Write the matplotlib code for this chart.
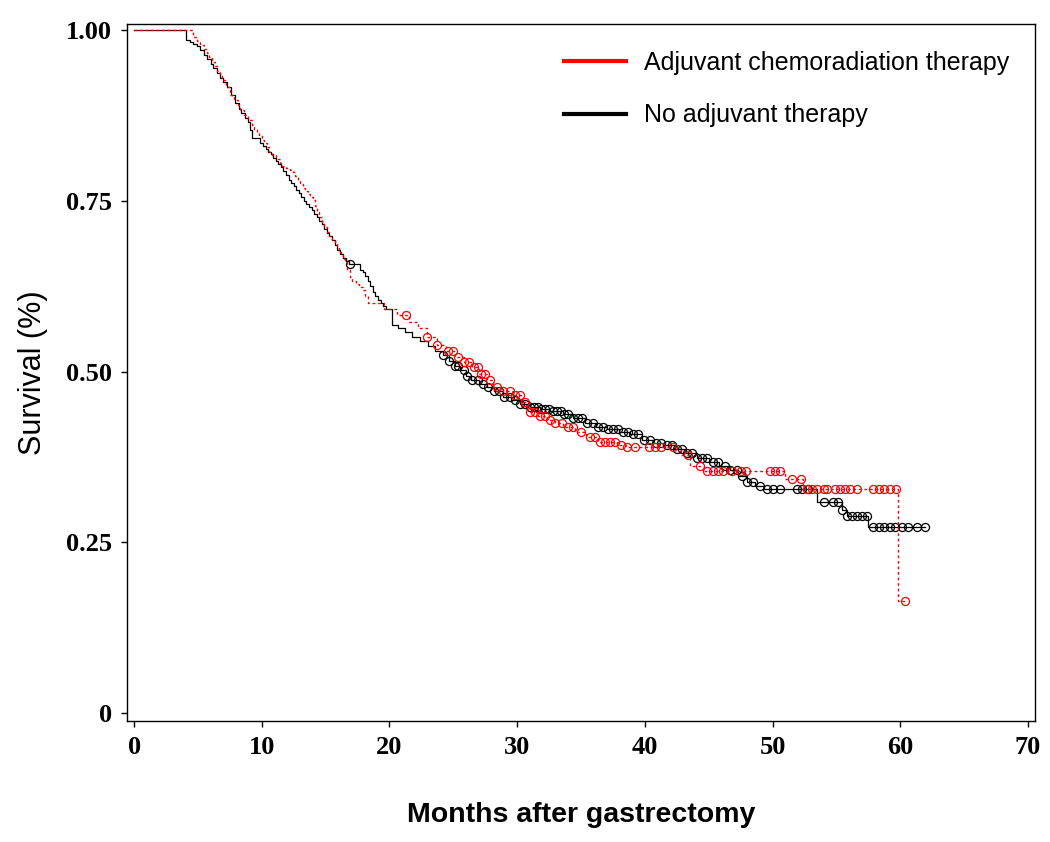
import numpy as np
import matplotlib
matplotlib.use("Agg")
import matplotlib.pyplot as plt
from matplotlib.lines import Line2D

# ---------------- data ----------------
no_adj_t = [0, 4.1, 4.4, 4.6, 4.9, 5.2, 5.5, 5.7, 6.0, 6.2, 6.5, 6.7, 7.0, 7.3, 7.6, 7.9,
            8.2, 8.4, 8.7, 8.9, 9.1, 9.25, 9.9, 10.1, 10.3, 10.5, 10.7, 10.9, 11.1, 11.3,
            11.5, 11.7, 11.9, 12.1, 12.3, 12.5, 12.7, 12.9, 13.1, 13.3, 13.5, 13.7, 13.9,
            14.1, 14.3, 14.5, 14.7, 14.9, 15.1, 15.3, 15.5, 15.7, 15.9, 16.1, 16.4, 16.6,
            16.8, 17.7, 17.9, 18.1, 18.3, 18.5, 18.7, 18.9, 19.1, 19.3, 19.5, 19.7, 20.2,
            20.7, 21.2, 21.8, 22.4, 23.0, 23.6, 24.2, 24.7, 25.1, 25.5, 26.0, 26.4, 27.0,
            27.6, 28.2, 28.9, 29.5, 30.2, 31.0, 31.8, 32.6, 33.6, 34.4, 35.3, 36.2, 37.0,
            38.0, 38.8, 39.8, 40.6, 41.4, 42.3, 43.2, 44.1, 45.0, 45.8, 46.7, 47.3, 48.0,
            48.6, 49.3, 53.5, 55.4, 55.8, 57.5, 61.9]
no_adj_s = [1.0, 0.985, 0.982, 0.980, 0.976, 0.971, 0.964, 0.958, 0.950, 0.944, 0.937,
            0.930, 0.924, 0.917, 0.905, 0.893, 0.885, 0.878, 0.871, 0.865, 0.853, 0.842,
            0.835, 0.830, 0.826, 0.822, 0.818, 0.813, 0.808, 0.804, 0.800, 0.793, 0.787,
            0.781, 0.776, 0.771, 0.766, 0.761, 0.756, 0.750, 0.745, 0.741, 0.737, 0.731,
            0.726, 0.721, 0.716, 0.709, 0.703, 0.698, 0.692, 0.685, 0.678, 0.672, 0.666,
            0.662, 0.658, 0.649, 0.645, 0.640, 0.632, 0.625, 0.617, 0.610, 0.605, 0.600,
            0.596, 0.592, 0.568, 0.563, 0.558, 0.551, 0.545, 0.538, 0.530, 0.524, 0.516,
            0.508, 0.502, 0.493, 0.487, 0.482, 0.477, 0.471, 0.463, 0.458, 0.452, 0.448,
            0.445, 0.442, 0.438, 0.432, 0.425, 0.419, 0.416, 0.412, 0.409, 0.400, 0.396,
            0.392, 0.386, 0.380, 0.373, 0.367, 0.361, 0.356, 0.347, 0.338, 0.333, 0.328,
            0.309, 0.297, 0.288, 0.272, 0.272]
no_adj_cens = [16.9, 24.2, 24.7, 25.1, 25.4, 25.8, 26.1, 26.5, 26.9, 27.3, 27.7, 28.2,
               28.6, 29.0, 29.4, 29.8, 30.2, 30.6, 31.0, 31.3, 31.6, 31.9, 32.2, 32.5,
               32.8, 33.1, 33.4, 33.7, 34.0, 34.4, 34.8, 35.1, 35.5, 35.9, 36.3, 36.7,
               37.1, 37.5, 37.9, 38.3, 38.7, 39.1, 39.5, 39.9, 40.4, 40.9, 41.3, 41.7,
               42.1, 42.5, 42.9, 43.3, 43.7, 44.1, 44.5, 44.9, 45.3, 45.7, 46.3, 46.7,
               47.2, 47.6, 48.0, 48.5, 49.0, 49.6, 50.0, 50.6, 51.9, 52.3, 52.8, 54.0,
               54.7, 55.1, 55.4, 55.8, 56.2, 56.6, 57.0, 57.4, 57.9, 58.3, 58.7, 59.2,
               59.6, 60.1, 60.6, 61.3, 61.9]

chemo_t = [0, 4.6, 4.9, 5.2, 5.5, 5.7, 5.9, 6.1, 6.3, 6.5, 6.7, 6.9, 7.2, 7.5, 7.8, 8.1,
           8.3, 8.6, 8.9, 9.2, 9.4, 9.6, 9.8, 10.0, 10.2, 10.4, 10.6, 10.8, 11.1, 11.4,
           11.6, 11.9, 12.2, 12.45, 12.6, 12.8, 13.0, 13.2, 13.4, 13.6, 13.8, 14.0, 14.15,
           14.3, 14.5, 14.7, 14.9, 15.1, 15.3, 15.5, 15.7, 15.9, 16.05, 16.2, 16.35, 16.5,
           16.7, 16.9, 17.1, 17.4, 17.6, 17.9, 18.1, 18.3, 19.6, 20.6, 21.5, 22.2, 22.9,
           23.7, 24.4, 25.1, 25.8, 26.5, 27.0, 27.6, 28.1, 28.9, 29.7, 30.3, 31.0, 31.6,
           32.3, 33.0, 33.6, 34.5, 35.4, 36.3, 37.8, 38.5, 42.8, 43.5, 44.6, 51.0, 52.4,
           59.8, 60.4]
chemo_s = [1.0, 0.990, 0.984, 0.978, 0.972, 0.966, 0.960, 0.953, 0.947, 0.940, 0.934,
           0.927, 0.916, 0.905, 0.897, 0.890, 0.883, 0.876, 0.868, 0.861, 0.855, 0.850,
           0.845, 0.839, 0.834, 0.828, 0.822, 0.817, 0.811, 0.805, 0.801, 0.798, 0.795,
           0.792, 0.786, 0.780, 0.775, 0.769, 0.765, 0.760, 0.756, 0.751, 0.742, 0.733,
           0.726, 0.719, 0.712, 0.704, 0.698, 0.692, 0.686, 0.681, 0.675, 0.670, 0.665,
           0.660, 0.649, 0.638, 0.633, 0.628, 0.624, 0.619, 0.610, 0.600, 0.592, 0.583,
           0.572, 0.564, 0.551, 0.539, 0.530, 0.521, 0.514, 0.507, 0.497, 0.487, 0.477,
           0.471, 0.466, 0.455, 0.441, 0.435, 0.429, 0.424, 0.419, 0.412, 0.404, 0.397,
           0.392, 0.390, 0.378, 0.362, 0.355, 0.343, 0.328, 0.164, 0.164]
chemo_cens = [21.3, 22.9, 23.7, 24.6, 25.0, 25.4, 25.8, 26.2, 26.6, 26.9, 27.2, 27.5,
              27.9, 28.4, 28.9, 29.4, 29.8, 30.2, 30.6, 31.0, 31.4, 31.8, 32.2, 32.6,
              33.0, 33.5, 34.0, 34.4, 35.0, 35.7, 36.1, 36.5, 36.9, 37.3, 37.7, 38.1,
              38.6, 39.2, 40.3, 40.8, 41.3, 42.2, 43.4, 44.3, 44.9, 45.3, 45.7, 46.1,
              46.8, 47.5, 47.9, 49.8, 50.2, 50.6, 51.5, 52.2, 52.7, 53.1, 53.5, 54.0,
              54.3, 54.9, 55.3, 55.7, 56.1, 56.6, 57.9, 58.3, 58.7, 59.2, 59.7, 60.4]

labels = ["Adjuvant chemoradiation therapy", "No adjuvant therapy"]
x_ticks = [0, 10, 20, 30, 40, 50, 60, 70]
y_ticks = [0, 0.25, 0.50, 0.75, 1.00]
y_ticklabels = ["0", "0.25", "0.50", "0.75", "1.00"]


def surv_at(times, t_steps, s_steps):
    idx = np.searchsorted(np.asarray(t_steps), np.asarray(times), side="right") - 1
    return np.asarray(s_steps)[idx]


# ---------------- figure ----------------
fig = plt.figure(figsize=(10.5, 8.42), dpi=100)
ax = fig.add_axes([0.121, 0.1437, 0.8647, 0.8278])

# no adjuvant (black, solid)
ax.step(no_adj_t, no_adj_s, where="post", color="black", lw=0.9, zorder=3)
ax.plot(no_adj_cens, surv_at(no_adj_cens, no_adj_t, no_adj_s), ls="none",
        marker="o", ms=5.8, mfc="none", mec="black", mew=0.9, zorder=3)

# adjuvant chemoradiation (red, dotted)
ax.step(chemo_t, chemo_s, where="post", color="red", lw=1.0, ls=(0, (2, 2)), zorder=4)
ax.plot(chemo_cens, surv_at(chemo_cens, chemo_t, chemo_s), ls="none",
        marker="o", ms=5.8, mfc="none", mec="red", mew=0.9, zorder=4)

ax.set_xlim(-0.55, 70.55)
ax.set_ylim(-0.0117, 1.0088)

serif = {"family": "Liberation Serif", "weight": "bold", "size": 19}
ax.set_xticks(x_ticks)
ax.set_xticklabels([str(v) for v in x_ticks], fontdict=serif)
ax.set_yticks(y_ticks)
ax.set_yticklabels(y_ticklabels, fontdict=serif)
ax.tick_params(axis="both", direction="out", length=4, width=1, color="black", pad=7)

# small white breaks in the bottom axis line at 5, 15, ...
ax.set_xticks([5, 15, 25, 35, 45, 55, 65], minor=True)
ax.tick_params(axis="x", which="minor", direction="inout", length=6, width=2.5,
               color="white")

for sp in ax.spines.values():
    sp.set_linewidth(1.0)
    sp.set_color("black")

ax.set_ylabel("Survival (%)", family="Liberation Sans", fontsize=22, labelpad=13)
ax.set_xlabel("Months after gastrectomy", family="Liberation Sans", fontsize=20.5,
              fontweight="bold", labelpad=31)

handles = [Line2D([], [], color="red", lw=3), Line2D([], [], color="black", lw=3)]
ax.legend(handles, labels, loc="upper left", bbox_to_anchor=(0.456, 0.994),
          frameon=False, prop={"family": "Liberation Sans", "size": 18},
          handlelength=2.5, handletextpad=0.7, labelspacing=1.15)

fig.savefig("out.png", dpi=100)
